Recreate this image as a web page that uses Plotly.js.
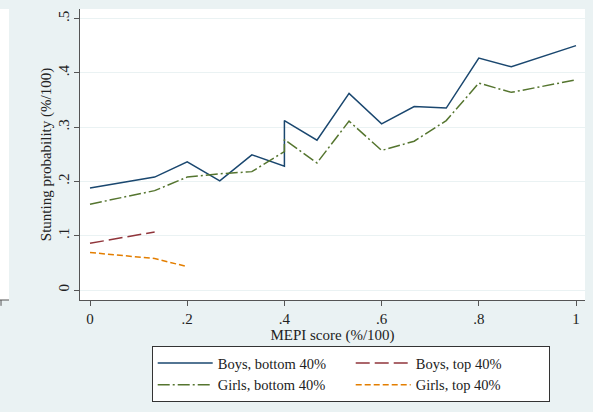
<!DOCTYPE html>
<html>
<head>
<meta charset="utf-8">
<script src="https://cdn.plot.ly/plotly-3.0.1.min.js"></script>
<style>html,body{margin:0;padding:0;background:#eaf2f3;}</style>
</head>
<body>
<div id="chart" style="width:593px;height:412px;"></div>
<script>
// MEPI score values (x) and stunting probabilities (y)
var boysBottomX = [0, 0.133, 0.2, 0.267, 0.333, 0.4, 0.4, 0.467, 0.533, 0.6, 0.667, 0.733, 0.8, 0.867, 1.0];
var boysBottomY = [0.188, 0.208, 0.236, 0.201, 0.249, 0.228, 0.312, 0.276, 0.362, 0.306, 0.338, 0.335, 0.427, 0.411, 0.450];
var girlsBottomX = [0, 0.133, 0.2, 0.267, 0.333, 0.4, 0.4, 0.467, 0.533, 0.6, 0.667, 0.733, 0.8, 0.867, 1.0];
var girlsBottomY = [0.158, 0.183, 0.208, 0.214, 0.218, 0.255, 0.277, 0.234, 0.311, 0.257, 0.274, 0.312, 0.381, 0.364, 0.387];
var boysTopX = [0, 0.133];
var boysTopY = [0.086, 0.107];
var girlsTopX = [0, 0.133, 0.2];
var girlsTopY = [0.069, 0.058, 0.043];
var seriesNames = ["Boys, bottom 40%", "Boys, top 40%", "Girls, bottom 40%", "Girls, top 40%"];
var xTickVals = [0, 0.2, 0.4, 0.6, 0.8, 1];
var xTickText = ["0", ".2", ".4", ".6", ".8", "1"];
var yTickVals = [0, 0.1, 0.2, 0.3, 0.4, 0.5];
var yTickText = ["0", ".1", ".2", ".3", ".4", ".5"];

var traces = [
  {x: boysBottomX, y: boysBottomY, name: seriesNames[0], mode: "lines",
   line: {color: "#1a476f", width: 1.5}},
  {x: boysTopX, y: boysTopY, name: seriesNames[1], mode: "lines",
   line: {color: "#90353b", width: 1.5, dash: "14px,5px"}},
  {x: girlsBottomX, y: girlsBottomY, name: seriesNames[2], mode: "lines",
   line: {color: "#55752f", width: 1.5, dash: "12px,3px,2px,3px"}},
  {x: girlsTopX, y: girlsTopY, name: seriesNames[3], mode: "lines",
   line: {color: "#e37e00", width: 1.5, dash: "6px,3px"}}
];

var fontFam = "Liberation Serif, Times New Roman, serif";
var layout = {
  width: 593, height: 412,
  margin: {l: 80, r: 8, t: 9, b: 112, autoexpand: false},
  paper_bgcolor: "#eaf2f3",
  plot_bgcolor: "#ffffff",
  font: {family: fontFam, size: 15, color: "#222"},
  showlegend: true,
  xaxis: {
    range: [-0.0206, 1.0185], tickvals: xTickVals, ticktext: xTickText,
    showgrid: false, zeroline: false, showline: true, linecolor: "#555", linewidth: 1,
    ticks: "outside", ticklen: 5, tickcolor: "#555",
    tickfont: {family: fontFam, size: 15, color: "#222"},
    title: {text: "MEPI score (%/100)", font: {family: fontFam, size: 15, color: "#222"}, standoff: 0}
  },
  yaxis: {
    range: [-0.0184, 0.5175], tickvals: yTickVals, ticktext: yTickText, tickangle: -90,
    showgrid: true, gridcolor: "#eaf2f3", gridwidth: 1, zeroline: false,
    showline: true, linecolor: "#555", linewidth: 1,
    ticks: "outside", ticklen: 5, tickcolor: "#555", ticklabelstandoff: -1,
    tickfont: {family: fontFam, size: 15, color: "#222"},
    title: {text: "Stunting probability (%/100)", font: {family: fontFam, size: 15, color: "#222"}, standoff: 0}
  },
  legend: {
    orientation: "h", x: 0.142, xanchor: "left", y: -0.158, yanchor: "top",
    bgcolor: "#ffffff", bordercolor: "#333", borderwidth: 1,
    font: {family: fontFam, size: 14.5, color: "#222"},
    entrywidth: 128, itemwidth: 55, traceorder: "normal"
  },
  shapes: [
    {type: "path", xref: "paper", yref: "paper",
     path: "M -0.1584 0 L -0.1406 0 L -0.1406 1 L -0.1584 1 Z",
     fillcolor: "#ffffff", line: {width: 0}, layer: "above"},
    {type: "line", xref: "paper", yref: "paper", x0: -0.1584, x1: -0.1406, y0: 0, y1: 0,
     line: {color: "#555", width: 1}, layer: "above"},
    {type: "line", xref: "paper", yref: "paper", x0: -0.1564, x1: -0.1564, y0: 0, y1: -0.02,
     line: {color: "#555", width: 1}, layer: "above"}
  ]
};
Plotly.newPlot("chart", traces, layout, {displayModeBar: false, staticPlot: true});
</script>
</body>
</html>
